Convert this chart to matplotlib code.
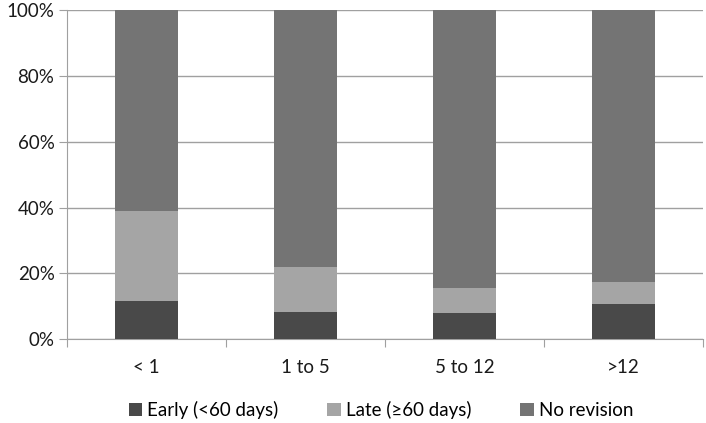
import matplotlib
matplotlib.use("Agg")
import matplotlib.pyplot as plt
import numpy as np

categorias = ["< 1", "1 to 5", "5 to 12", ">12"]
precoce = [11.7, 8.3, 8.0, 10.8]
tardia = [27.4, 13.8, 7.7, 6.5]
sem_revisao = [100 - a - b for a, b in zip(precoce, tardia)]
rotulos = ["Early (<60 days)", "Late (\u226560 days)", "No revision"]
cores = ["#494949", "#a5a5a5", "#747474"]

plt.rcParams["font.family"] = ["Lato", "DejaVu Sans"]

fig = plt.figure(figsize=(7.06, 4.23), dpi=100)
ax = fig.add_axes([0.0949, 0.198, 0.901, 0.778])

x = np.arange(len(categorias))
base = np.zeros(len(categorias))
for valores, rotulo, cor in zip([precoce, tardia, sem_revisao], rotulos, cores):
    ax.bar(x, valores, width=0.4, bottom=base, color=cor, label=rotulo, zorder=3)
    base += np.array(valores)

ax.set_xlim(-0.5, len(categorias) - 0.5)
ax.set_ylim(0, 100)
ax.set_yticks(range(0, 101, 20))
ax.set_yticklabels([f"{v}%" for v in range(0, 101, 20)])
ax.yaxis.grid(True, color="#a0a0a0", linewidth=1.0, zorder=0)

# ticks do eixo x entre as categorias, rótulos no centro
ax.set_xticks(np.arange(-0.5, len(categorias), 1.0))
ax.set_xticklabels([])
ax.set_xticks(x, minor=True)
ax.set_xticklabels(categorias, minor=True)
ax.tick_params(axis="x", which="major", length=6, color="#a0a0a0", direction="out")
ax.tick_params(axis="x", which="minor", length=0, pad=14)
ax.tick_params(axis="y", length=6, color="#a0a0a0", pad=3)
ax.tick_params(which="both", labelsize=13.5, labelcolor="#1a1a1a")

for lado in ["top", "right"]:
    ax.spines[lado].set_visible(False)
for lado in ["left", "bottom"]:
    ax.spines[lado].set_color("#a0a0a0")

fig.legend(
    loc="center",
    bbox_to_anchor=(0.54, 0.031),
    ncol=3,
    frameon=False,
    fontsize=13.5,
    handlelength=0.7,
    handleheight=0.7,
    handletextpad=0.3,
    columnspacing=2.6,
)

plt.savefig("out.png", dpi=100)
